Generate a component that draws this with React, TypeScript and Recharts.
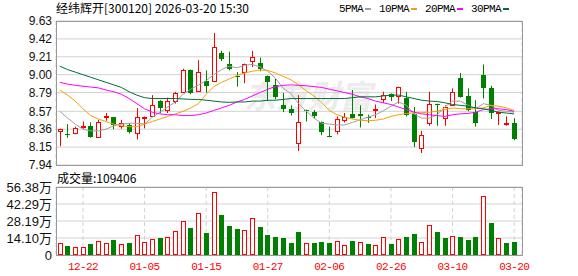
import { Bar, BarChart, CartesianGrid, ComposedChart, Line, XAxis, YAxis } from 'recharts'

const RED = '#ff0000'
const GREEN = '#008000'

const dates = [
  '12-17', '12-18', '12-19', '12-22', '12-23', '12-24', '12-25', '12-26', '12-29', '12-30',
  '12-31', '01-05', '01-06', '01-07', '01-08', '01-09', '01-12', '01-13', '01-14', '01-15',
  '01-16', '01-19', '01-20', '01-21', '01-22', '01-23', '01-26', '01-27', '01-28', '01-29',
  '01-30', '02-02', '02-03', '02-04', '02-05', '02-06', '02-09', '02-10', '02-11', '02-12',
  '02-13', '02-24', '02-25', '02-26', '02-27', '03-02', '03-03', '03-04', '03-05', '03-06',
  '03-09', '03-10', '03-11', '03-12', '03-13', '03-16', '03-17', '03-18', '03-19', '03-20',
]

const opens = [
  8.34, 8.305, 8.31, 8.385, 8.4, 8.27, 8.515, 8.5, 8.4, 8.41,
  8.31, 8.495, 8.52, 8.69, 8.59, 8.69, 8.8, 9.06, 8.81, 8.93,
  8.93, 9.25, 9.13, 8.99, 9.03, 9.16, 9.135, 8.99, 8.88, 8.64,
  8.6, 8.2, 8.59, 8.56, 8.45, 8.285, 8.34, 8.47, 8.54, 8.54,
  8.5, 8.595, 8.71, 8.77, 8.75, 8.725, 8.54, 8.135, 8.43, 8.66,
  8.49, 8.65, 8.96, 8.75, 8.56, 9.0, 8.84, 8.555, 8.425, 8.43,
]
const highs = [
  8.365, 8.42, 8.39, 8.45, 8.44, 8.47, 8.55, 8.5, 8.47, 8.43,
  8.61, 8.51, 8.76, 8.7, 8.73, 8.8, 9.07, 9.06, 9.17, 9.05,
  9.49, 9.28, 9.27, 9.03, 9.13, 9.28, 9.2, 8.99, 8.95, 8.785,
  8.64, 8.76, 8.59, 8.585, 8.45, 8.39, 8.51, 8.55, 8.82, 8.64,
  8.53, 8.65, 8.8, 8.78, 8.86, 8.8, 8.62, 8.34, 8.8, 8.66,
  8.64, 8.84, 9.02, 8.84, 8.7, 9.12, 8.87, 8.565, 8.51, 8.49,
]
const lows = [
  8.16, 8.26, 8.3, 8.365, 8.26, 8.26, 8.46, 8.36, 8.365, 8.31,
  8.24, 8.37, 8.51, 8.55, 8.55, 8.66, 8.79, 8.77, 8.8, 8.79,
  8.92, 9.16, 9.05, 8.86, 8.9, 9.09, 9.04, 8.69, 8.71, 8.56,
  8.52, 8.105, 8.45, 8.48, 8.29, 8.265, 8.3, 8.44, 8.485, 8.38,
  8.435, 8.49, 8.67, 8.69, 8.66, 8.51, 8.15, 8.08, 8.4, 8.4,
  8.4, 8.64, 8.73, 8.57, 8.39, 8.72, 8.48, 8.41, 8.4, 8.23,
]
const closes = [
  8.36, 8.295, 8.37, 8.395, 8.27, 8.45, 8.52, 8.41, 8.43, 8.33,
  8.5, 8.505, 8.65, 8.61, 8.69, 8.78, 9.06, 8.79, 9.03, 8.87,
  9.32, 9.18, 9.07, 8.97, 9.12, 9.21, 9.07, 8.91, 8.74, 8.6,
  8.55, 8.44, 8.58, 8.52, 8.33, 8.275, 8.475, 8.5, 8.495, 8.52,
  8.49, 8.6, 8.765, 8.735, 8.85, 8.53, 8.21, 8.29, 8.66, 8.64,
  8.62, 8.8, 8.74, 8.585, 8.435, 8.84, 8.55, 8.56, 8.43, 8.25,
]
const volumes = [
  99000, 74000, 66000, 66000, 91000, 113000, 99000, 124000, 91000, 99000,
  162000, 107000, 135000, 140000, 146000, 195000, 286000, 223000, 352000, 182000,
  525000, 330000, 239000, 215000, 204000, 303000, 231000, 165000, 149000, 140000,
  102000, 190000, 96000, 99000, 107000, 99000, 113000, 80000, 116000, 107000,
  91000, 80000, 146000, 91000, 129000, 149000, 173000, 107000, 245000, 190000,
  140000, 154000, 149000, 124000, 149000, 492000, 264000, 137500, 99000, 109406,
]

const ma5 = [
  8.57, 8.49, 8.42, 8.36, 8.34, 8.34, 8.36, 8.4, 8.42, 8.43,
  8.43, 8.42, 8.5, 8.56, 8.62, 8.68, 8.77, 8.83, 8.88, 8.93,
  9.0, 9.06, 9.1, 9.08, 9.11, 9.12, 9.09, 9.04, 8.96, 8.84,
  8.78, 8.66, 8.57, 8.49, 8.43, 8.42, 8.41, 8.41, 8.44, 8.47,
  8.5, 8.53, 8.575, 8.63, 8.68, 8.64, 8.54, 8.49, 8.49, 8.53,
  8.62, 8.69, 8.69, 8.64, 8.6, 8.66, 8.64, 8.58, 8.57, 8.56,
]
const ma10 = [
  8.82, 8.76, 8.69, 8.6, 8.52, 8.48, 8.45, 8.42, 8.4, 8.39,
  8.39, 8.42, 8.45, 8.48, 8.51, 8.54, 8.57, 8.61, 8.66, 8.77,
  8.86, 8.91, 8.95, 8.99, 9.02, 9.04, 9.055, 9.05, 9.02, 8.98,
  8.94, 8.88, 8.81, 8.75, 8.67, 8.58, 8.53, 8.5, 8.48, 8.465,
  8.46, 8.465, 8.48, 8.51, 8.53, 8.545, 8.55, 8.555, 8.56, 8.57,
  8.59, 8.61, 8.6, 8.6, 8.6, 8.61, 8.64, 8.63, 8.61, 8.58,
]
const ma20 = [
  8.91, 8.89, 8.875, 8.865, 8.855, 8.845, 8.82, 8.8, 8.77, 8.72,
  8.66, 8.6, 8.56, 8.54, 8.53, 8.53, 8.52, 8.52, 8.53, 8.55,
  8.58, 8.61, 8.64, 8.68, 8.71, 8.75, 8.79, 8.83, 8.86, 8.875,
  8.88, 8.875, 8.87, 8.86, 8.85, 8.83, 8.81, 8.79, 8.77, 8.74,
  8.72, 8.69, 8.67, 8.65, 8.62, 8.59, 8.56, 8.54, 8.53, 8.52,
  8.51, 8.53, 8.54, 8.545, 8.56, 8.59, 8.6, 8.6, 8.59, 8.57,
]
const ma30 = [
  9.1, 9.06, 9.03, 9.0, 8.97, 8.94, 8.91, 8.88, 8.85, 8.8,
  8.76, 8.73, 8.72, 8.72, 8.72, 8.72, 8.715, 8.71, 8.71, 8.7,
  8.69, 8.68, 8.675, 8.68, 8.68, 8.69, 8.69, 8.7, 8.7, 8.71,
  8.72, 8.72, 8.72, 8.72, 8.72, 8.72, 8.72, 8.72, 8.73, 8.74,
  8.74, 8.74, 8.75, 8.76, 8.76, 8.74, 8.72, 8.7, 8.69, 8.685,
  8.67, 8.65, 8.64, 8.63, 8.61, 8.6, 8.58, 8.56, 8.55, 8.54,
]

const priceTicks = [7.94, 8.15, 8.36, 8.57, 8.79, 9.0, 9.21, 9.42, 9.63]
const volTicks = [0, 141000, 281900, 422900, 563800]
const dateTicks = ['12-22', '01-05', '01-15', '01-27', '02-06', '02-26', '03-10', '03-20']

const maSeries = [
  { key: 'ma5', name: '5PMA', color: '#a0a0a0' },
  { key: 'ma10', name: '10PMA', color: '#f5a200' },
  { key: 'ma20', name: '20PMA', color: '#ff00ff' },
  { key: 'ma30', name: '30PMA', color: '#006f3a' },
]

const rows = dates.map((date, i) => ({
  date,
  open: opens[i],
  high: highs[i],
  low: lows[i],
  close: closes[i],
  range: [lows[i], highs[i]],
  vol: volumes[i],
  volUp: i === 0 || closes[i] >= closes[i - 1],
  ma5: ma5[i],
  ma10: ma10[i],
  ma20: ma20[i],
  ma30: ma30[i],
}))

function Candle(props: any) {
  const { x, y, width, height, payload } = props
  if (x == null || payload == null) return null
  const { open, close, high, low } = payload
  const up = close >= open
  const color = up ? RED : GREEN
  const top = Math.min(y, y + height)
  const h = Math.abs(height)
  const toY = (v: number) => (high > low ? top + ((high - v) / (high - low)) * h : top)
  const cx = Math.round(x + width / 2)
  const bTop = Math.round(toY(Math.max(open, close)))
  const bBot = Math.round(toY(Math.min(open, close)))
  return (
    <g>
      <line x1={cx + 0.5} x2={cx + 0.5} y1={top} y2={top + h} stroke={color} strokeWidth={1} />
      {up ? (
        <rect x={cx - 2 + 0.5} y={bTop + 0.5} width={4} height={Math.max(bBot - bTop, 1)} fill="#fff" stroke={color} strokeWidth={1} />
      ) : (
        <rect x={cx - 2} y={bTop} width={5} height={Math.max(bBot - bTop, 1)} fill={color} />
      )}
    </g>
  )
}

function VolBar(props: any) {
  const { x, y, width, height, payload } = props
  if (x == null || payload == null) return null
  const cx = Math.round(x + width / 2)
  const top = Math.round(Math.min(y, y + height))
  const bot = Math.round(Math.max(y, y + height))
  if (payload.volUp) {
    return <rect x={cx - 2 + 0.5} y={top + 0.5} width={4} height={Math.max(bot - top - 1, 1)} fill="#fff" stroke={RED} strokeWidth={1} />
  }
  return <rect x={cx - 2} y={top} width={5} height={bot - top} fill={GREEN} />
}

const cjk = '"Noto Sans CJK SC", "Liberation Sans", sans-serif'
const mono = '"Liberation Mono", monospace'
const axisFont = '"Liberation Sans", "Noto Sans CJK SC", sans-serif'

const frame = (top: number, height: number) => ({
  position: 'absolute' as const,
  left: 56,
  top,
  width: 467,
  height,
  border: '1px solid #999',
  boxSizing: 'border-box' as const,
  pointerEvents: 'none' as const,
})

export default function App() {
  return (
    <div style={{ position: 'absolute', left: 0, top: 0, width: 578, height: 276, background: '#fff', overflow: 'hidden' }}>
      <span style={{ position: 'absolute', left: 244, top: 74, fontFamily: cjk, fontSize: 32, fontWeight: 700, fontStyle: 'italic', color: '#ececec', lineHeight: '40px' }}>
        东方财富
      </span>

      <div style={{ position: 'absolute', left: 56, top: 0, fontFamily: cjk, fontSize: 12, lineHeight: '16px', color: '#000', whiteSpace: 'nowrap' }}>
        经纬辉开[300120] 2026-03-20 15:30
      </div>

      <div style={{ position: 'absolute', left: 339, top: 1, display: 'flex', alignItems: 'center', fontFamily: mono, fontSize: 11, letterSpacing: -0.6, lineHeight: '16px', color: '#000' }}>
        {maSeries.map((s) => (
          <span key={s.key} style={{ display: 'flex', alignItems: 'center', marginRight: 8 }}>
            <span>{s.name}</span>
            <span style={{ display: 'inline-block', width: 6, height: 2, background: s.color, marginLeft: 2 }} />
          </span>
        ))}
      </div>

      <div style={{ position: 'absolute', left: 0, top: 0 }}>
        <ComposedChart width={578} height={178} data={rows} margin={{ top: 21, right: 56, bottom: 13, left: 0 }}>
          <CartesianGrid vertical={false} stroke="#d2d2d2" />
          <CartesianGrid horizontal={false} stroke="#d2d2d2" strokeDasharray="4 3" />
          <XAxis dataKey="date" ticks={dateTicks} interval={0} tick={false} tickLine={false} axisLine={false} height={0} padding={{ left: 0, right: 4 }} />
          <YAxis
            width={56}
            domain={[7.94, 9.63]}
            ticks={priceTicks}
            interval={0}
            allowDataOverflow
            tickLine={false}
            axisLine={false}
            tickSize={0}
            tickMargin={4}
            tick={{ fontSize: 12, fill: '#111', fontFamily: axisFont }}
            tickFormatter={(v: number) => v.toFixed(2)}
          />
          <Bar dataKey="range" shape={<Candle />} barSize={5} isAnimationActive={false} />
          {maSeries.map((s) => (
            <Line key={s.key} type="linear" dataKey={s.key} stroke={s.color} strokeWidth={1} dot={false} activeDot={false} isAnimationActive={false} />
          ))}
        </ComposedChart>
      </div>
      <div style={frame(21, 145)} />

      <div style={{ position: 'absolute', left: 57, top: 170, fontFamily: cjk, fontSize: 12, lineHeight: '16px', color: '#000', whiteSpace: 'nowrap' }}>
        成交量:{volumes[volumes.length - 1]}
      </div>

      <div style={{ position: 'absolute', left: 0, top: 170 }}>
        <BarChart width={578} height={106} data={rows} margin={{ top: 17, right: 56, bottom: 0, left: 0 }}>
          <CartesianGrid vertical={false} stroke="#d2d2d2" />
          <CartesianGrid horizontal={false} stroke="#d2d2d2" strokeDasharray="4 3" />
          <XAxis
            dataKey="date"
            ticks={dateTicks}
            interval={0}
            height={21}
            padding={{ left: 0, right: 4 }}
            axisLine={false}
            tickLine={false}
            tickSize={0}
            tickMargin={7}
            tick={{ fontSize: 11, fill: RED, fontFamily: mono, letterSpacing: -0.6 }}
          />
          <YAxis
            width={56}
            domain={[0, 563800]}
            ticks={volTicks}
            interval={0}
            allowDataOverflow
            tickLine={false}
            axisLine={false}
            tickSize={0}
            tickMargin={4}
            tick={{ fontSize: 13, fill: '#111', fontFamily: axisFont }}
            tickFormatter={(v: number) => (v === 0 ? '0' : `${(v / 10000).toFixed(2)}万`)}
          />
          <Bar dataKey="vol" shape={<VolBar />} barSize={5} isAnimationActive={false} />
        </BarChart>
      </div>
      <div style={frame(187, 69)} />
    </div>
  )
}
